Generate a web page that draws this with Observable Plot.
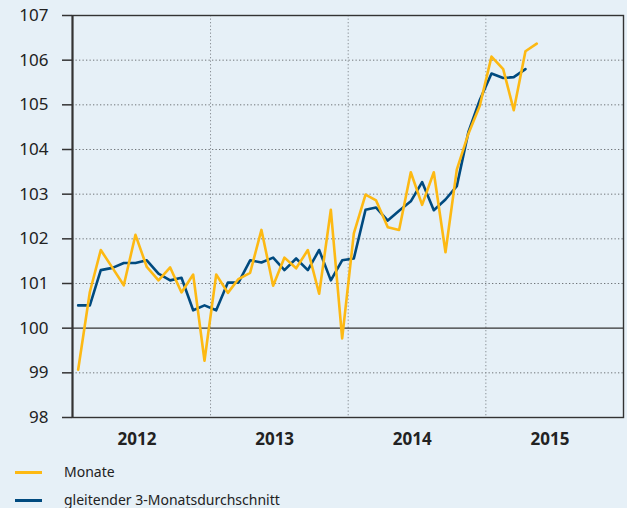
<!DOCTYPE html>
<html>
<head>
<meta charset="utf-8">
<script src="https://cdn.jsdelivr.net/npm/d3@7"></script>
<script src="https://cdn.jsdelivr.net/npm/@observablehq/plot@0.6"></script>
<style>
  html, body { margin: 0; padding: 0; background: #e6f0f7; }
  body { width: 627px; height: 508px; position: relative; overflow: hidden; font-family: "Noto Sans", sans-serif; color: #222; }
  #chart { position: absolute; left: 0; top: 0; }
  .legend { position: absolute; left: 0; font-size: 14px; color: #222; }
  .legend .row { position: absolute; left: 0; white-space: nowrap; height: 20px; }
  .legend .sw { position: absolute; left: 15px; top: 9px; width: 27px; height: 3px; }
  .legend .lb { position: absolute; left: 64px; top: 0; line-height: 20px; }
</style>
</head>
<body>
<div id="chart"></div>
<div class="legend">
  <div class="row" style="top:462px"><div class="sw" style="background:#fdb913"></div><div class="lb">Monate</div></div>
  <div class="row" style="top:490px"><div class="sw" style="background:#004a7f"></div><div class="lb">gleitender 3-Monatsdurchschnitt</div></div>
</div>
<script>
const months = [
  "2012-01","2012-02","2012-03","2012-04","2012-05","2012-06","2012-07","2012-08","2012-09","2012-10","2012-11","2012-12",
  "2013-01","2013-02","2013-03","2013-04","2013-05","2013-06","2013-07","2013-08","2013-09","2013-10","2013-11","2013-12",
  "2014-01","2014-02","2014-03","2014-04","2014-05","2014-06","2014-07","2014-08","2014-09","2014-10","2014-11","2014-12",
  "2015-01","2015-02","2015-03","2015-04","2015-05"
];
const monate = [
  99.07, 100.81, 101.75, 101.35, 100.96, 102.09, 101.37, 101.07, 101.36, 100.80, 101.20, 99.27,
  101.20, 100.79, 101.10, 101.24, 102.20, 100.95, 101.58, 101.34, 101.75, 100.77, 102.65, 99.77,
  102.12, 102.99, 102.86, 102.26, 102.20, 103.49, 102.76, 103.49, 101.70, 103.55, 104.36, 104.98,
  106.08, 105.80, 104.88, 106.20, 106.37
];
const durchschnitt = [
  100.51, 100.51, 101.30, 101.35, 101.46, 101.46, 101.52, 101.22, 101.07, 101.13, 100.40, 100.51,
  100.40, 101.02, 101.02, 101.52, 101.47, 101.58, 101.30, 101.56, 101.30, 101.75, 101.07, 101.52,
  101.56, 102.65, 102.70, 102.41, 102.63, 102.84, 103.27, 102.64, 102.88, 103.18, 104.40, 105.11,
  105.70, 105.60, 105.62, 105.80
];
const yearLabels = ["2012", "2013", "2014", "2015"];
const yTicks = [98, 99, 100, 101, 102, 103, 104, 105, 106, 107];
const yGrid = [99, 101, 102, 103, 104, 105, 106];
const yearBounds = ["2013", "2014", "2015"];

const toDate = (s) => { const [y, m] = s.split("-").map(Number); return new Date(Date.UTC(y, m - 1, 16)); };
const dataM = monate.map((v, i) => ({date: toDate(months[i]), value: v}));
const dataD = durchschnitt.map((v, i) => ({date: toDate(months[i]), value: v}));
const labelDates = yearLabels.map(y => new Date(Date.UTC(+y, 5, 20)));
const boundDates = yearBounds.map(y => new Date(Date.UTC(+y, 0, 1)));

const yellow = "#fdb913";
const blue = "#004a7f";
const dark = "#333";

const chart = Plot.plot({
  width: 627,
  height: 455,
  marginLeft: 72,
  marginRight: 4,
  marginTop: 15,
  marginBottom: 38,
  style: {background: "transparent", fontFamily: "'Noto Sans', sans-serif", color: "#222"},
  x: {type: "utc", domain: [new Date(Date.UTC(2012, 0, 1)), new Date(Date.UTC(2016, 0, 1))]},
  y: {domain: [98, 107]},
  marks: [
    Plot.ruleY(yGrid, {stroke: "#6f7478", strokeWidth: 1, strokeDasharray: "1.3,2.2"}),
    Plot.ruleX(boundDates, {stroke: "#8a9096", strokeWidth: 1, strokeDasharray: "1.3,2.2"}),
    Plot.ruleY([100], {stroke: dark, strokeWidth: 1.3}),
    Plot.line(dataD, {x: "date", y: "value", stroke: blue, strokeWidth: 2.6}),
    Plot.line(dataM, {x: "date", y: "value", stroke: yellow, strokeWidth: 2.6}),
    Plot.frame({stroke: dark, strokeWidth: 1.4}),
    Plot.ruleX([new Date(Date.UTC(2012, 0, 1))], {stroke: dark, strokeWidth: 2}),
    Plot.axisY(yTicks, {tickSize: 10, tickPadding: 14, fontSize: 17, stroke: dark, strokeWidth: 1.5, label: null}),
    Plot.axisX(labelDates, {tickSize: 0, tickPadding: 15, fontSize: 17, fontWeight: "bold", tickFormat: d => String(d.getUTCFullYear()), label: null})
  ]
});
document.getElementById("chart").appendChild(chart);
</script>
</body>
</html>
